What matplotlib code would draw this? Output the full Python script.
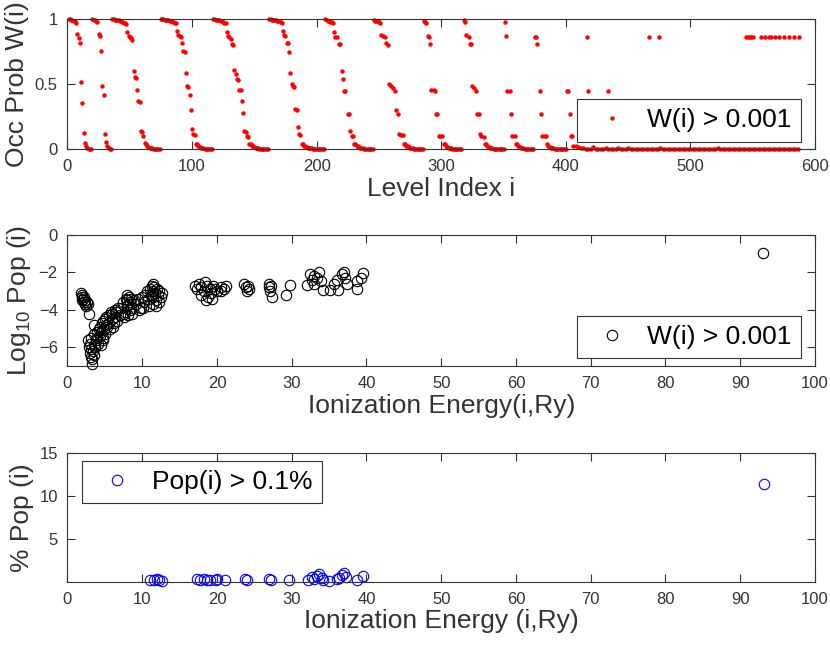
import numpy as np
import matplotlib.pyplot as plt

plt.rcParams['font.family'] = ['Liberation Sans', 'DejaVu Sans']
plt.rcParams['mathtext.default'] = 'regular'

# ---- panel 1: occupation probability per level (only W > 0.001) ----
level_idx = [
    1, 2, 3, 4, 5, 6, 7, 8, 9, 10, 11, 12, 13, 14, 15, 16, 17, 18, 19,
    20, 21, 22, 23, 24, 25, 26, 27, 28, 29, 30, 31, 32, 33, 34, 35,
    36, 37, 38, 39, 40, 41, 42, 43, 44, 45, 46, 47,
    48, 49, 50, 51, 52, 53, 54, 55, 56, 57, 58, 59, 60, 61, 62, 63, 64, 65,
    66, 67, 68, 69, 70, 71, 72, 73, 74,
    75, 76, 77, 78, 79, 80, 81, 82, 83, 84, 85, 86, 87,
    88, 89, 90, 91, 92, 93, 94, 95, 96, 97, 98, 99, 100, 101, 102, 103, 104,
    105, 106, 107, 108, 109, 110, 111, 112, 113, 114, 115, 116,
    117, 118, 119, 120, 121, 122, 123, 124, 125, 126, 127,
    128, 129, 130, 131, 132, 133, 134, 135, 136, 137, 138, 139, 140, 141, 142,
    143, 144, 145, 146, 147, 148, 149, 150, 151, 152, 153, 154, 155, 156, 157,
    158, 159, 160, 161,
    162, 163, 164, 165, 166, 167, 168, 169, 170, 171, 172,
    173, 174, 175, 176, 177, 178, 179, 180, 181, 182, 183, 184, 185, 186, 187,
    188, 189, 190, 191, 192, 193, 194, 195, 196, 197, 198, 199, 200, 201, 202,
    203, 204, 205, 206,
    207, 208, 209, 210, 211, 212, 213,
    214, 215, 216, 218, 219, 220, 221, 222, 223, 225, 226, 227, 228, 229,
    230, 231, 232, 233, 234, 235, 236, 237, 238, 239, 240, 241, 242, 243, 244, 245,
    246, 247, 248, 249, 250, 251,
    252, 253, 255, 256, 257, 258, 260, 261, 263, 264, 265, 266, 268, 269,
    270, 271, 272, 273, 274, 275, 276, 277, 278, 279, 280, 281, 282, 283, 284, 285,
    286, 287, 288,
    289, 290, 291, 292, 294, 295, 296, 297, 298, 299, 301,
    302, 303, 304, 305, 306, 307, 308, 309, 310, 311, 312, 313, 314, 315, 316,
    318, 319, 320, 322, 323, 324, 325, 326, 328, 329, 330, 331, 332, 334,
    335, 336, 337, 338, 339, 340, 341, 342, 343, 344, 345, 346, 347, 348, 349, 350,
    351, 352, 353, 355, 356, 357, 359,
    360, 361, 362, 363, 364, 365, 366, 367, 368, 369, 370, 371, 372, 373, 374,
    375, 376, 377, 379, 380, 381, 383, 384,
    385, 386, 387, 388, 389, 390, 391, 392, 393, 394, 395, 396, 397, 398, 399, 400,
    401, 402, 403, 404, 405,
    417, 418, 434, 467, 475,
    545, 546, 548, 549, 550, 557, 560, 563, 565, 568, 571, 575, 579, 583, 587,
    406, 408, 410, 412, 414, 416, 418, 420, 422, 424,
    426, 428, 430, 432, 434, 436, 438, 440, 442, 444,
    446, 448, 450, 452, 454, 456, 458, 460, 462, 464,
    466, 468, 470, 472, 474, 476, 478, 480, 482, 484,
    486, 488, 490, 492, 494, 496, 498, 500, 502, 504,
    506, 508, 510, 512, 514, 516, 518, 520, 522, 524,
    526, 528, 530, 532, 534, 536, 538, 540, 542, 544,
    546, 548, 550, 552, 554, 556, 558, 560, 562, 564,
    566, 568, 570, 572, 574, 576, 578, 580, 582, 584, 586,
]
occ_prob = [
    1.0, 1.0, 0.998, 0.995, 0.99, 0.985, 0.975, 0.89, 0.855, 0.82, 0.52, 0.36,
    0.13, 0.05, 0.025, 0.012, 0.007, 0.004, 0.003,
    1.0, 0.998, 0.995, 0.99, 0.98, 0.885, 0.875, 0.76, 0.49, 0.42, 0.12, 0.06,
    0.025, 0.01, 0.005, 0.003,
    1.0, 1.0, 0.999, 0.998, 0.996, 0.993, 0.99, 0.985, 0.98, 0.975, 0.97, 0.965,
    0.90, 0.87, 0.865, 0.86, 0.84, 0.60, 0.555, 0.55, 0.46, 0.37, 0.365, 0.14,
    0.135, 0.10, 0.05, 0.045, 0.03, 0.02, 0.015, 0.01, 0.008, 0.006, 0.005,
    0.004, 0.003, 0.002, 0.002,
    1.0, 1.0, 1.0, 0.999, 0.998, 0.996, 0.994, 0.99, 0.988, 0.985, 0.98, 0.975, 0.97,
    0.91, 0.88, 0.87, 0.865, 0.82, 0.76, 0.75, 0.59, 0.49, 0.48, 0.42, 0.30,
    0.16, 0.117, 0.11, 0.045, 0.04, 0.03, 0.02, 0.015, 0.01, 0.008, 0.006,
    0.005, 0.004, 0.003, 0.003, 0.002, 0.002,
    1.0, 1.0, 0.999, 0.998, 0.996, 0.993, 0.99, 0.985, 0.98, 0.975, 0.97,
    0.90, 0.87, 0.865, 0.85, 0.81, 0.80, 0.61, 0.58, 0.54, 0.535, 0.46, 0.455,
    0.37, 0.28, 0.14, 0.135, 0.10, 0.095, 0.045, 0.04, 0.03, 0.025, 0.02,
    0.015, 0.01, 0.008, 0.006, 0.005, 0.004, 0.003, 0.003, 0.002, 0.002, 0.002,
    1.0, 1.0, 0.999, 0.998, 0.996, 0.994, 0.99, 0.988, 0.985, 0.98, 0.975,
    0.91, 0.88, 0.87, 0.82, 0.815, 0.75, 0.59, 0.50, 0.49, 0.48, 0.31, 0.305,
    0.17, 0.117, 0.11, 0.045, 0.04, 0.03, 0.025, 0.02, 0.015, 0.012, 0.01,
    0.008, 0.006, 0.005, 0.004, 0.004, 0.003, 0.003, 0.002, 0.002, 0.002, 0.002,
    1.0, 0.995, 0.99, 0.985, 0.98, 0.978, 0.975,
    0.90, 0.865, 0.865, 0.81, 0.81, 0.60, 0.54, 0.45, 0.45, 0.27, 0.27, 0.14,
    0.10, 0.10,
    0.045, 0.04, 0.03, 0.025, 0.02, 0.015, 0.01, 0.008, 0.006, 0.005, 0.004,
    0.003, 0.003, 0.002, 0.002, 0.002,
    0.995, 0.99, 0.99, 0.985, 0.98, 0.975,
    0.88, 0.87, 0.865, 0.82, 0.80, 0.50, 0.485, 0.475, 0.45, 0.30, 0.27, 0.117,
    0.11, 0.11,
    0.045, 0.04, 0.03, 0.025, 0.02, 0.015, 0.01, 0.008, 0.006, 0.005, 0.004,
    0.003, 0.003, 0.002, 0.002, 0.002,
    0.985, 0.98, 0.975,
    0.87, 0.865, 0.81, 0.46, 0.455, 0.45, 0.27, 0.27, 0.10, 0.10, 0.10,
    0.045, 0.04, 0.03, 0.02, 0.015, 0.01, 0.008, 0.006, 0.005, 0.004, 0.003,
    0.003, 0.002, 0.002, 0.002,
    0.995, 0.98, 0.88, 0.865, 0.81, 0.81, 0.49, 0.475, 0.45, 0.27, 0.27, 0.117,
    0.10, 0.095,
    0.045, 0.04, 0.03, 0.02, 0.015, 0.01, 0.008, 0.006, 0.005, 0.004, 0.003,
    0.003, 0.002, 0.002, 0.002, 0.002,
    0.98, 0.87, 0.45, 0.45, 0.27, 0.10, 0.10,
    0.045, 0.04, 0.03, 0.02, 0.015, 0.01, 0.008, 0.006, 0.005, 0.004, 0.003,
    0.003, 0.002, 0.002, 0.002,
    0.865, 0.865, 0.81, 0.45, 0.27, 0.10, 0.10, 0.10,
    0.045, 0.03, 0.02, 0.015, 0.01, 0.008, 0.006, 0.005, 0.004, 0.003, 0.003,
    0.002, 0.002, 0.002, 0.002, 0.002,
    0.45, 0.45, 0.27, 0.10, 0.10,
    0.865, 0.45, 0.45, 0.865, 0.865,
    0.865, 0.865, 0.865, 0.865, 0.865, 0.865, 0.865, 0.865, 0.865, 0.865,
    0.865, 0.865, 0.865, 0.865, 0.865,
    0.03, 0.025, 0.02, 0.012, 0.008, 0.006, 0.005, 0.004, 0.02, 0.004,
    0.003, 0.004, 0.003, 0.015, 0.004, 0.003, 0.003, 0.003, 0.015, 0.003,
    0.003, 0.003, 0.012, 0.003, 0.003, 0.002, 0.003, 0.003, 0.003, 0.003,
    0.003, 0.002, 0.003, 0.003, 0.003, 0.01, 0.003, 0.003, 0.003, 0.003,
    0.003, 0.002, 0.003, 0.003, 0.003, 0.003, 0.003, 0.003, 0.003, 0.003,
    0.003, 0.003, 0.003, 0.003, 0.003, 0.003, 0.003, 0.003, 0.008, 0.003,
    0.003, 0.003, 0.002, 0.003, 0.003, 0.003, 0.003, 0.003, 0.003, 0.003,
    0.003, 0.003, 0.003, 0.003, 0.003, 0.003, 0.003, 0.003, 0.003, 0.003,
    0.003, 0.003, 0.003, 0.003, 0.003, 0.003, 0.003, 0.003, 0.003, 0.003, 0.003,
]

# ---- panel 2: log10 population vs ionization energy ----
ion_energy = [
    1.8, 1.9, 2.0, 2.0, 2.1, 2.2, 2.2, 2.3, 2.4, 2.5, 2.6, 2.7, 2.9,
    2.8, 2.9, 3.0, 3.0, 3.1, 3.2, 3.2, 3.3, 3.4, 3.5, 3.5, 3.6, 3.7, 3.8, 3.9,
    4.0, 3.3, 3.6,
    4.1, 4.2, 4.3, 4.4, 4.5, 4.6, 4.7, 4.8, 4.9, 5.0, 5.1, 5.2, 5.3, 4.5, 4.8, 5.0,
    5.5, 5.6, 5.8, 5.9, 6.0, 6.1, 6.3, 6.4, 6.5, 6.6, 6.8, 7.0, 5.7, 6.2,
    7.2, 7.4, 7.6, 7.8, 7.9, 8.0, 8.0, 8.1, 8.2, 8.3, 8.4, 8.5, 8.7, 8.9,
    7.5, 7.7, 8.1, 8.6,
    9.2, 9.5, 9.8, 10.0, 10.2, 10.4, 9.6, 10.1,
    10.6, 10.8, 11.0, 11.2, 11.3, 11.4, 11.5, 11.5, 11.6, 11.7, 11.8, 12.0,
    12.1, 12.3, 12.5, 12.7, 10.9, 11.4, 11.9, 12.2,
    17.0, 17.3, 17.6, 17.9, 18.2, 18.4, 18.6, 18.8, 19.0, 19.2, 19.5, 19.8,
    20.0, 18.5, 19.4, 17.8,
    20.5, 20.6, 21.0, 21.2,
    23.6, 23.9, 24.2, 24.3, 24.0,
    26.9, 27.0, 27.1, 27.2, 27.3,
    29.8, 29.3,
    32.0, 32.5, 33.0, 33.4, 33.7, 33.9, 34.2, 35.1, 33.0, 32.7,
    35.6, 36.0, 36.2, 36.7, 37.0, 37.1, 37.4, 38.7, 38.7, 39.6, 39.3,
    93.0,
]
log_pop = [
    -3.1, -3.3, -3.2, -3.5, -3.4, -3.6, -3.3, -3.7, -3.5, -3.8, -3.6, -3.7, -4.2,
    -5.6, -6.0, -5.8, -6.3, -6.1, -5.5, -6.5, -6.9, -6.2, -5.9, -6.4, -5.3, -6.0,
    -5.6, -5.2, -5.5, -6.6, -4.8,
    -5.8, -5.0, -5.4, -4.9, -5.2, -4.7, -5.5, -4.6, -5.0, -4.5, -4.8, -4.4, -4.9,
    -5.9, -5.6, -5.3,
    -4.3, -4.7, -4.1, -4.5, -4.2, -4.9, -4.0, -4.4, -4.1, -4.6, -3.9, -4.3, -5.0, -4.7,
    -3.9, -3.6, -4.2, -3.4, -3.8, -3.2, -3.5, -3.7, -3.3, -4.0, -3.6, -3.4, -3.9,
    -3.5, -4.4, -4.1, -4.3, -4.2,
    -3.7, -3.4, -3.9, -3.3, -3.6, -3.2, -4.0, -3.9,
    -3.0, -3.4, -2.9, -3.2, -2.7, -3.0, -2.6, -3.3, -2.8, -3.1, -3.5, -2.9,
    -3.2, -3.0, -3.3, -3.1, -3.8, -3.7, -3.8, -3.6,
    -2.7, -2.9, -2.6, -2.8, -3.0, -2.5, -2.7, -3.3, -2.9, -3.1, -2.7, -2.9,
    -3.0, -3.5, -3.4, -3.2,
    -2.8, -3.0, -2.9, -2.7,
    -2.6, -2.8, -2.7, -2.9, -3.0,
    -2.6, -2.8, -3.0, -2.7, -3.3,
    -2.65, -3.2,
    -2.66, -2.1, -2.2, -2.3, -2.0, -2.45, -2.95, -2.95, -2.6, -2.4,
    -2.6, -2.4, -2.95, -2.1, -2.0, -2.3, -2.6, -2.45, -2.9, -2.05, -2.3,
    -0.95,
]

# ---- panel 3: percent population (> 0.1 %) ----
pop_energy = [
    11.0, 11.6, 12.0, 12.3, 12.7,
    17.3, 17.7, 18.2, 18.6, 19.0, 19.9, 20.0, 21.1,
    23.7, 24.0, 27.0, 27.2, 29.7,
    32.2, 32.7, 33.0, 33.4, 33.7, 34.0, 34.2, 35.0,
    36.0, 36.3, 36.7, 37.0, 37.3, 38.7, 39.6,
    93.2,
]
pop_pct = [
    0.2, 0.25, 0.3, 0.2, 0.15,
    0.3, 0.25, 0.3, 0.2, 0.25, 0.2, 0.4, 0.2,
    0.3, 0.25, 0.3, 0.25, 0.2,
    0.2, 0.6, 0.4, 0.7, 0.9, 0.5, 0.2, 0.15,
    0.3, 0.5, 0.8, 1.0, 0.6, 0.2, 0.7,
    11.4,
]

axis_col = '#333333'
fig = plt.figure(figsize=(8.3, 6.47), dpi=100)
ax1 = fig.add_axes([0.0813, 0.769, 0.9006, 0.201])
ax2 = fig.add_axes([0.0813, 0.4343, 0.9006, 0.2025])
ax3 = fig.add_axes([0.0813, 0.1005, 0.9006, 0.1994])


def style(ax):
    for s in ax.spines.values():
        s.set_color(axis_col)
        s.set_linewidth(0.8)
    ax.tick_params(direction='in', top=True, right=True, length=5.5, width=0.8,
                   colors=axis_col, labelsize=12, pad=7)


def add_legend(ax, loc, anchor):
    leg = ax.legend(loc=loc, bbox_to_anchor=anchor, borderaxespad=0, fontsize=19,
                    fancybox=False, edgecolor=axis_col, framealpha=1,
                    handlelength=1.9, handletextpad=0.4, borderpad=0.35, numpoints=1)
    leg.get_frame().set_linewidth(0.8)


# top panel
ax1.plot(level_idx, occ_prob, 'o', color='red', markersize=3.2, markeredgewidth=0,
         clip_on=False, label='W(i) > 0.001')
ax1.set_xlim(0, 600)
ax1.set_ylim(0, 1)
ax1.set_xticks([0, 100, 200, 300, 400, 500, 600])
ax1.set_yticks([0, 0.5, 1])
ax1.set_yticklabels(['0', '0.5', '1'])
ax1.set_xlabel('Level Index i', fontsize=19, color=axis_col, labelpad=2)
ax1.set_ylabel('Occ Prob W(i)', fontsize=19, color=axis_col, labelpad=4)
style(ax1)
add_legend(ax1, 'upper right', (0.981, 0.386))

# middle panel
ax2.plot(ion_energy, log_pop, 'o', mfc='none', mec='black', ms=7.5, mew=0.8,
         clip_on=False, label='W(i) > 0.001')
ax2.set_xlim(0, 100)
ax2.set_ylim(-7, 0)
ax2.set_xticks(range(0, 101, 10))
ax2.set_yticks([-6, -4, -2, 0])
ax2.set_xlabel('Ionization Energy(i,Ry)', fontsize=19, color=axis_col, labelpad=2)
ax2.set_ylabel('Log$_{10}$ Pop (i)', fontsize=19, color=axis_col, labelpad=4)
style(ax2)
add_legend(ax2, 'upper right', (0.981, 0.382))

# bottom panel
ax3.plot(pop_energy, pop_pct, 'o', mfc='none', mec='blue', ms=7.5, mew=0.8,
         clip_on=False, label='Pop(i) > 0.1%')
ax3.set_xlim(0, 100)
ax3.set_ylim(0, 15)
ax3.set_xticks(range(0, 101, 10))
ax3.set_yticks([5, 10, 15])
ax3.set_xlabel('Ionization Energy (i,Ry)', fontsize=19, color=axis_col, labelpad=2)
ax3.set_ylabel('% Pop (i)', fontsize=19, color=axis_col, labelpad=4)
style(ax3)
add_legend(ax3, 'upper left', (0.0198, 0.938))

fig.savefig('out.png', dpi=100)
